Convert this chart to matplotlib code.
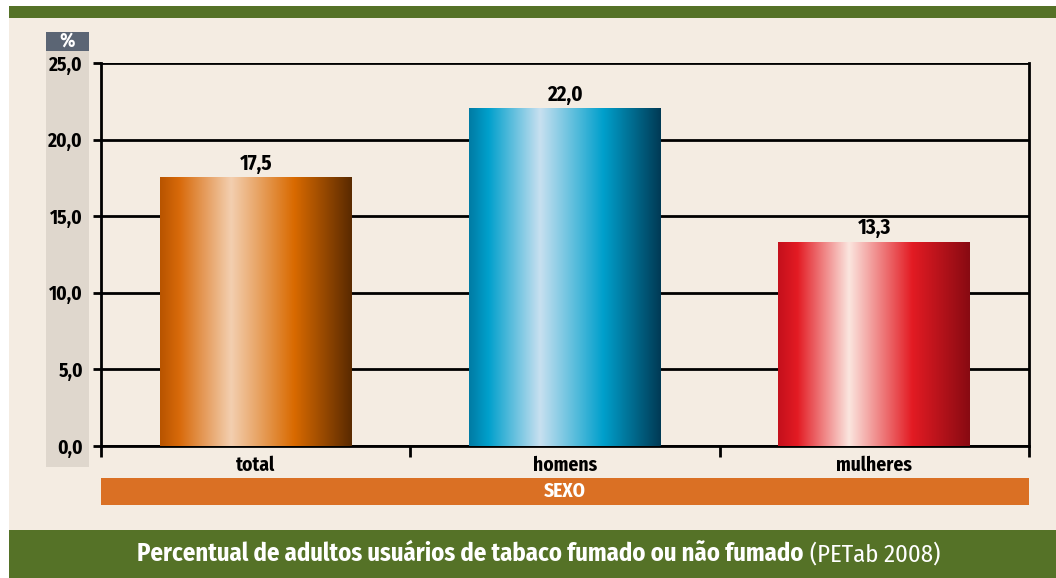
import numpy as np
import matplotlib.pyplot as plt
from matplotlib.colors import LinearSegmentedColormap
from matplotlib.patches import Rectangle

# data
categorias = ['total', 'homens', 'mulheres']
valores = [17.5, 22.0, 13.3]
rotulos = ['17,5', '22,0', '13,3']
yticks = [0, 5, 10, 15, 20, 25]
ytick_labels = ['0,0', '5,0', '10,0', '15,0', '20,0', '25,0']
titulo = 'Percentual de adultos usuários de tabaco fumado ou não fumado'
fonte = ' (PETab 2008)'

plt.rcParams['font.family'] = ['Fira Sans Condensed', 'DejaVu Sans']

W, H = 1056, 578
fig = plt.figure(figsize=(W / 100, H / 100), dpi=100)
fig.patch.set_facecolor('white')

def px_rect(x0, y0, x1, y1, color, z=-1):
    # rectangle in pixel coords (origin top-left)
    r = Rectangle((x0 / W, 1 - y1 / H), (x1 - x0) / W, (y1 - y0) / H,
                  transform=fig.transFigure, facecolor=color, edgecolor='none', zorder=z)
    fig.patches.append(r)

verde = '#557227'
px_rect(9, 18, W, 530, '#F4ECE2', -3)
px_rect(9, 6, W, 18, verde)
px_rect(9, 530, W, H, verde)
px_rect(46, 51, 89, 467, '#DFD7CD')
px_rect(46, 32, 89, 51, '#5B6574')
px_rect(101, 478, 1029, 505, '#DA7024')

fs = 14
fig.text(67.5 / W, 1 - 41 / H, '%', color='white', fontsize=fs, fontweight='bold',
         ha='center', va='center')
fig.text(565 / W, 1 - 491 / H, 'SEXO', color='white', fontsize=fs, fontweight='bold',
         ha='center', va='center')

# title: bold part + regular source, fitted to 137..940 px
tfs = 17
t1 = fig.text(137 / W, 1 - 554 / H, titulo, color='white', fontsize=tfs, fontweight='bold',
              ha='left', va='center')
t2 = fig.text(0, 1 - 554 / H, fonte, color='white', fontsize=tfs, ha='left', va='center')
fig.canvas.draw()
r = fig.canvas.get_renderer()
w = t1.get_window_extent(r).width + t2.get_window_extent(r).width
tfs = tfs * 803 / w
t1.set_fontsize(tfs)
t2.set_fontsize(tfs)
fig.canvas.draw()
t2.set_x(t1.get_window_extent(r).x1 / W)

ax = fig.add_axes([101 / W, 1 - 446 / H, 928 / W, 383 / H])
ax.set_facecolor('none')

gradientes = [
    ['#B85400', '#D86A0A', '#F3CFB0', '#D96A00', '#5A2A00'],
    ['#007BA4', '#00A0CC', '#C8E0F0', '#00A0CC', '#003A55'],
    ['#C4101C', '#E31B23', '#FBE6DF', '#E31B23', '#880A12'],
]
pos = [0, 0.1, 0.37, 0.7, 1.0]

x = np.arange(len(categorias))
barras = ax.bar(x, valores, width=0.62, color='none', zorder=3)
grad = np.linspace(0, 1, 256).reshape(1, -1)
for b, cores in zip(barras, gradientes):
    cmap = LinearSegmentedColormap.from_list('g', list(zip(pos, cores)))
    x0, bw, h = b.get_x(), b.get_width(), b.get_height()
    ax.imshow(grad, cmap=cmap, extent=(x0, x0 + bw, 0, h), aspect='auto', zorder=3)

for xi, v, rt in zip(x, valores, rotulos):
    ax.text(xi, v + 0.25, rt, ha='center', va='bottom', fontsize=15, fontweight='bold')

ax.set_xlim(-0.5, 2.5)
ax.set_ylim(0, 25)
ax.set_yticks(yticks)
ax.set_yticklabels(ytick_labels, fontsize=fs, fontweight='bold')
ax.set_xticks(x)
ax.set_xticklabels(categorias, fontsize=fs, fontweight='bold')
ax.set_xticks([-0.5, 0.5, 1.5, 2.5], minor=True)
ax.tick_params(axis='x', which='major', length=0, pad=7)
ax.tick_params(axis='x', which='minor', length=8, width=2, direction='out')
ax.tick_params(axis='y', length=6, width=2, direction='out', pad=7)
ax.yaxis.grid(True, color='black', linewidth=2, zorder=1)
ax.set_axisbelow(True)
for s in ['left', 'right', 'bottom']:
    ax.spines[s].set_linewidth(2)
ax.spines['top'].set_visible(False)

fig.savefig('out.png', dpi=100, facecolor=fig.get_facecolor())
